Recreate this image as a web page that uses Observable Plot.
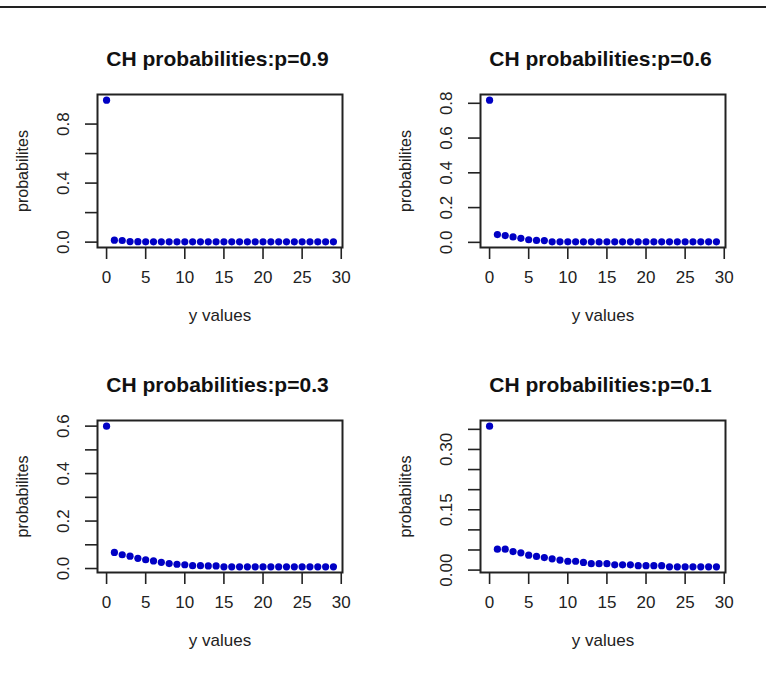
<!DOCTYPE html>
<html><head><meta charset="utf-8">
<script src="https://cdn.jsdelivr.net/npm/d3@7"></script>
<script src="https://cdn.jsdelivr.net/npm/@observablehq/plot@0.6"></script>
<style>
html,body{margin:0;padding:0;background:#fff;}
#root{position:relative;width:766px;height:674px;overflow:hidden;background:#fff;font-family:"Liberation Sans",Arial,sans-serif;}
#rule{position:absolute;left:0;top:6px;width:766px;height:2px;background:#222;}
.panel{position:absolute;}
</style></head><body><div id="root"><div id="rule"></div></div>
<script>
// y values (x axis)
const yValues = [0,1,2,3,4,5,6,7,8,9,10,11,12,13,14,15,16,17,18,19,20,21,22,23,24,25,26,27,28,29];
const xTicks = [0,5,10,15,20,25,30];
const xTickLabels = ["0","5","10","15","20","25","30"];

const titles = ["CH probabilities:p=0.9","CH probabilities:p=0.6","CH probabilities:p=0.3","CH probabilities:p=0.1"];
const xLabel = "y values";
const yLabel = "probabilites";

// probabilities
const prob09 = [0.962,0.013,0.011,0.004,0.003,0.002,0.002,0.002,0.002,0.002,0.002,0.002,0.002,0.002,0.002,0.002,0.002,0.002,0.002,0.002,0.002,0.002,0.002,0.002,0.002,0.002,0.002,0.002,0.002,0.002];
const prob06 = [0.818,0.045,0.039,0.031,0.023,0.015,0.011,0.010,0.003,0.003,0.003,0.003,0.003,0.003,0.003,0.003,0.003,0.003,0.003,0.003,0.003,0.003,0.003,0.003,0.003,0.003,0.003,0.003,0.003,0.003];
const prob03 = [0.600,0.068,0.058,0.052,0.043,0.037,0.032,0.026,0.021,0.018,0.016,0.012,0.012,0.011,0.011,0.007,0.007,0.007,0.007,0.007,0.007,0.007,0.007,0.007,0.007,0.007,0.007,0.007,0.007,0.007];
const prob01 = [0.358,0.052,0.052,0.046,0.043,0.037,0.034,0.031,0.028,0.025,0.022,0.022,0.019,0.016,0.016,0.016,0.013,0.013,0.013,0.011,0.011,0.011,0.011,0.008,0.008,0.008,0.008,0.008,0.008,0.008];

// y-axis ticks and labels per panel
const yTicks09 = [0,0.2,0.4,0.6,0.8];
const yLabels09 = ["0.0","","0.4","","0.8"];
const yTicks06 = [0,0.2,0.4,0.6,0.8];
const yLabels06 = ["0.0","0.2","0.4","0.6","0.8"];
const yTicks03 = [0,0.1,0.2,0.3,0.4,0.5,0.6];
const yLabels03 = ["0.0","","0.2","","0.4","","0.6"];
const yTicks01 = [0,0.05,0.1,0.15,0.2,0.25,0.3,0.35];
const yLabels01 = ["0.00","","","0.15","","","0.30",""];

const panels = [
  {title: titles[0], probs: prob09, ticks: yTicks09, labels: yLabels09, left: 0, top: 20, mb: 93},
  {title: titles[1], probs: prob06, ticks: yTicks06, labels: yLabels06, left: 383, top: 20, mb: 93},
  {title: titles[2], probs: prob03, ticks: yTicks03, labels: yLabels03, left: 0, top: 346, mb: 94},
  {title: titles[3], probs: prob01, ticks: yTicks01, labels: yLabels01, left: 383, top: 346, mb: 94}
];

function rRange(lo, hi) { const d = (hi - lo) * 0.04; return [lo - d, hi + d]; }

const root = document.getElementById("root");
const ink = "#222";
const ctr = {textAnchor: "middle", lineAnchor: "middle"};
for (const p of panels) {
  const data = yValues.map((y, i) => ({y, p: p.probs[i]}));
  const yLabTicks = p.ticks.map((v, i) => ({v, t: p.labels[i]})).filter(d => d.t !== "");
  const xLab = xTicks.map((v, i) => ({v, t: xTickLabels[i]}));
  const chart = Plot.plot({
    width: 383, height: 320,
    marginLeft: 97, marginRight: 41, marginTop: 74, marginBottom: p.mb,
    style: {fontFamily: "Liberation Sans, Arial, sans-serif", fontSize: "17px", color: ink, background: "transparent"},
    x: {domain: rRange(0, 29), axis: null},
    y: {domain: rRange(d3.min(p.probs), d3.max(p.probs)), axis: null},
    marks: [
      Plot.axisX({ticks: xTicks, tickSize: 12, tickFormat: () => "", label: null, stroke: ink, strokeWidth: 1.6}),
      Plot.axisY({ticks: p.ticks, tickSize: 12, tickFormat: () => "", label: null, stroke: ink, strokeWidth: 1.6}),
      Plot.frame({stroke: ink, strokeWidth: 2}),
      Plot.text(xLab, {x: "v", text: "t", frameAnchor: "bottom", dy: 30, fontSize: 17, fill: ink, ...ctr}),
      Plot.text(yLabTicks, {y: "v", text: "t", frameAnchor: "left", dx: -33.5, rotate: -90, fontSize: 17, fill: ink, ...ctr}),
      Plot.text([xLabel], {text: d => d, frameAnchor: "bottom", dy: 68, fontSize: 17, fill: ink, ...ctr}),
      Plot.text([yLabel], {text: d => d, frameAnchor: "left", dx: -74.5, rotate: -90, fontSize: 16, fill: ink, ...ctr}),
      Plot.text([p.title], {text: d => d, frameAnchor: "top", dy: -35.5, dx: -2.5, fontSize: 21, fontWeight: "bold", fill: "#111", ...ctr}),
      Plot.dot(data, {x: "y", y: "p", r: 3.6, fill: "#0000c4", stroke: "none"})
    ]
  });
  chart.classList.add("panel");
  chart.style.left = p.left + "px";
  chart.style.top = p.top + "px";
  root.appendChild(chart);
}
</script>
</body></html>
